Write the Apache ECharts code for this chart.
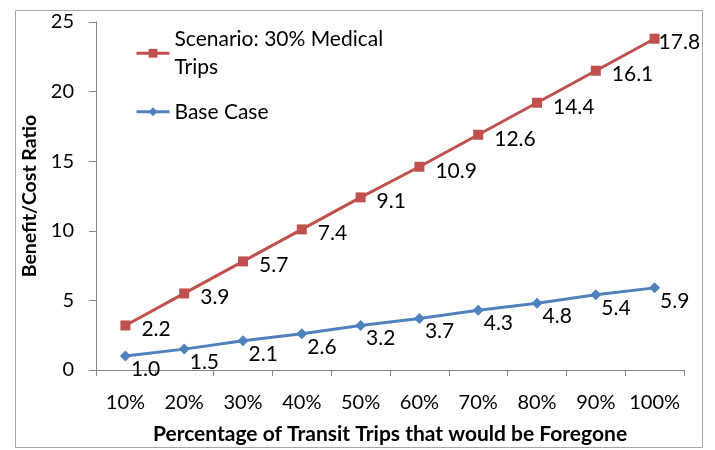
<!DOCTYPE html>
<html>
<head>
<meta charset="utf-8">
<script src="https://cdn.jsdelivr.net/npm/echarts@6/dist/echarts.min.js"></script>
<style>
html,body{margin:0;padding:0;background:#fff;}
#chart{width:715px;height:450px;}
</style>
</head>
<body>
<div id="chart"></div>
<script>
var categories = ['10%','20%','30%','40%','50%','60%','70%','80%','90%','100%'];
var scenarioValues = [3.2, 5.5, 7.8, 10.1, 12.4, 14.6, 16.9, 19.2, 21.5, 23.8];
var scenarioLabels = ['2.2','3.9','5.7','7.4','9.1','10.9','12.6','14.4','16.1','17.8'];
var baseValues = [1.0, 1.5, 2.1, 2.6, 3.2, 3.7, 4.3, 4.8, 5.4, 5.9];
var baseLabels = ['1.0','1.5','2.1','2.6','3.2','3.7','4.3','4.8','5.4','5.9'];
var yTicks = [0, 5, 10, 15, 20, 25];

var FONT = 'Lato';
var RED = '#C0504D', BLUE = '#4F81BD', AXIS = '#868686';
var scenarioName = 'Scenario: 30% Medical\nTrips';
var baseName = 'Base Case';

var chart = echarts.init(document.getElementById('chart'));
var option = {
  animation: false,
  backgroundColor: '#fff',
  textStyle: { fontFamily: FONT },
  graphic: [{
    type: 'rect', left: 13, top: 8,
    shape: { width: 687, height: 437 },
    style: { fill: 'none', stroke: '#A6A6A6', lineWidth: 1 }, silent: true
  }],
  grid: { left: 96, right: 31, top: 22, bottom: 78 },
  legend: [{
    data: [scenarioName], left: 135, top: 10.5, padding: 0,
    itemWidth: 33, itemHeight: 11, itemGap: 0,
    lineStyle: { width: 3 },
    textStyle: { fontFamily: FONT, fontSize: 21, color: '#000', lineHeight: 28.5, padding: [28.5, 0, 0, 0] }
  }, {
    data: [baseName], left: 135, top: 97.5, padding: 0,
    itemWidth: 33, itemHeight: 11, itemGap: 0,
    lineStyle: { width: 3 },
    textStyle: { fontFamily: FONT, fontSize: 21, color: '#000', lineHeight: 28.5 }
  }],
  xAxis: {
    type: 'category', data: categories, boundaryGap: true,
    name: 'Percentage of Transit Trips that would be Foregone',
    nameLocation: 'middle', nameGap: 54,
    nameTextStyle: { fontFamily: FONT, fontSize: 21, fontWeight: 'bold', color: '#000' },
    axisLine: { lineStyle: { color: AXIS, width: 1 } },
    axisTick: { show: true, length: 6, lineStyle: { color: AXIS } },
    axisLabel: { interval: 0, fontFamily: FONT, fontSize: 20, color: '#000', margin: 23 },
    splitLine: { show: false }
  },
  yAxis: {
    type: 'value', min: yTicks[0], max: yTicks[yTicks.length - 1], interval: 5,
    name: 'Benefit/Cost Ratio', nameLocation: 'middle', nameGap: 50,
    nameTextStyle: { fontFamily: FONT, fontSize: 19.5, fontWeight: 'bold', color: '#000' },
    axisLine: { show: true, lineStyle: { color: AXIS, width: 1 } },
    axisTick: { show: true, length: 7, lineStyle: { color: AXIS } },
    axisLabel: { fontFamily: FONT, fontSize: 20, color: '#000', margin: 22 },
    splitLine: { show: false }
  },
  series: [{
    name: scenarioName, type: 'line',
    data: scenarioValues.map(function (v, i) {
      return {
        value: v,
        label: { formatter: scenarioLabels[i], offset: i === scenarioValues.length - 1 ? [-12, 4] : [0, 4] }
      };
    }),
    symbol: 'rect', symbolSize: 10,
    lineStyle: { color: RED, width: 3 },
    itemStyle: { color: RED },
    label: { show: true, position: 'right', distance: 11, fontFamily: FONT, fontSize: 21, color: '#000' }
  }, {
    name: baseName, type: 'line',
    data: baseValues.map(function (v, i) {
      return { value: v, label: { formatter: baseLabels[i] } };
    }),
    symbol: 'diamond', symbolSize: 11,
    lineStyle: { color: BLUE, width: 3 },
    itemStyle: { color: BLUE },
    label: { show: true, position: 'right', distance: 0, offset: [0, 13], fontFamily: FONT, fontSize: 21, color: '#000' }
  }]
};
chart.setOption(option);
</script>
</body>
</html>
